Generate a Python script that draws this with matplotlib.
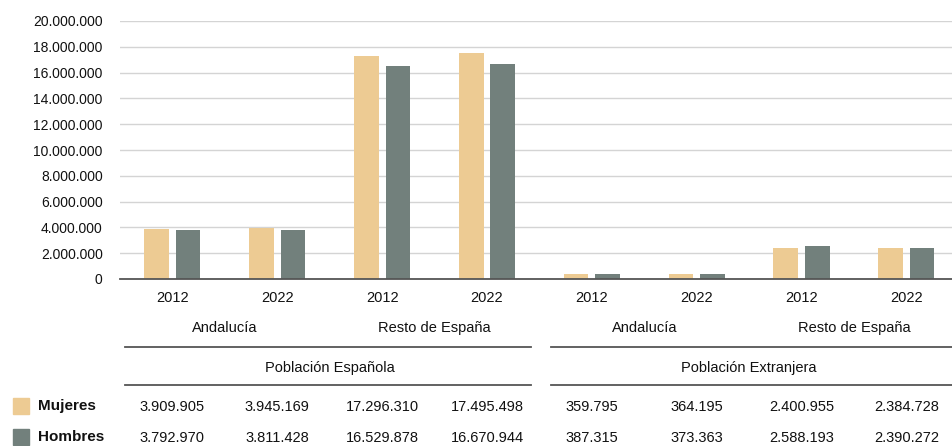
import matplotlib.pyplot as plt
from matplotlib.lines import Line2D
from matplotlib.patches import Rectangle
from matplotlib.ticker import FuncFormatter
import numpy as np

plt.rcParams['font.family'] = ['Liberation Sans', 'DejaVu Sans']

# data
years = ['2012', '2022', '2012', '2022', '2012', '2022', '2012', '2022']
regions = ['Andalucía', 'Resto de España', 'Andalucía', 'Resto de España']
groups = ['Población Española', 'Población Extranjera']
mujeres = [3909905, 3945169, 17296310, 17495498, 359795, 364195, 2400955, 2384728]
hombres = [3792970, 3811428, 16529878, 16670944, 387315, 373363, 2588193, 2390272]

c_muj = '#EDCB93'
c_hom = '#72807C'
txt = '#111111'

W, H = 953, 446
fig = plt.figure(figsize=(W / 100, H / 100), dpi=100)
ax = fig.add_axes([120 / W, 1 - 279 / H, (953 - 120) / W, (279 - 21) / H])

x = np.arange(len(years))
bw = 0.235
ax.bar(x - 0.15, mujeres, bw, color=c_muj, zorder=2)
ax.bar(x + 0.15, hombres, bw, color=c_hom, zorder=2)

ax.set_xlim(-0.5, 7.445)
ax.set_ylim(0, 20000000)
ax.set_yticks(np.arange(0, 20000001, 2000000))
ax.yaxis.set_major_formatter(FuncFormatter(lambda v, p: f'{int(v):,}'.replace(',', '.')))
ax.grid(axis='y', color='#d4d4d4', linewidth=1, zorder=0)
ax.set_xticks([])
for s in ['top', 'right', 'left']:
    ax.spines[s].set_visible(False)
ax.spines['bottom'].set_color('#555555')
ax.spines['bottom'].set_linewidth(1.3)
ax.spines['bottom'].set_zorder(3)
ax.tick_params(axis='y', length=0, pad=12.5, labelsize=10, labelcolor=txt)


def fy(py):
    return 1 - py / H


def fx(xd):
    return ax.transData.transform((xd, 0))[0] / W


fs = 10.5
for i, y in enumerate(years):
    fig.text(fx(i), fy(298), y, ha='center', va='center', fontsize=fs, color=txt)
for j, r in enumerate(regions):
    fig.text(fx(2 * j + 0.5), fy(328), r, ha='center', va='center', fontsize=fs, color=txt)
for k, g in enumerate(groups):
    fig.text(fx(4 * k + 1.5), fy(368), g, ha='center', va='center', fontsize=fs, color=txt)

# separator lines
for py in [347, 385]:
    fig.add_artist(Line2D([125 / W, 531 / W], [fy(py), fy(py)], color='#555555', lw=1.3))
    fig.add_artist(Line2D([551 / W, 953 / W], [fy(py), fy(py)], color='#555555', lw=1.3))

# table rows
rows = [('Mujeres', mujeres, c_muj, 406), ('Hombres', hombres, c_hom, 437)]
for name, vals, col, py in rows:
    fig.add_artist(Rectangle((13 / W, fy(py + 8)), 16 / W, 16 / H, color=col))
    fig.text(38 / W, fy(py), name, ha='left', va='center', fontsize=fs + 0.5,
             fontweight='bold', color=txt)
    for i, v in enumerate(vals):
        fig.text(fx(i), fy(py + 1), f'{v:,}'.replace(',', '.'), ha='center',
                 va='center', fontsize=fs, color=txt)

fig.savefig('out.png', dpi=100)
